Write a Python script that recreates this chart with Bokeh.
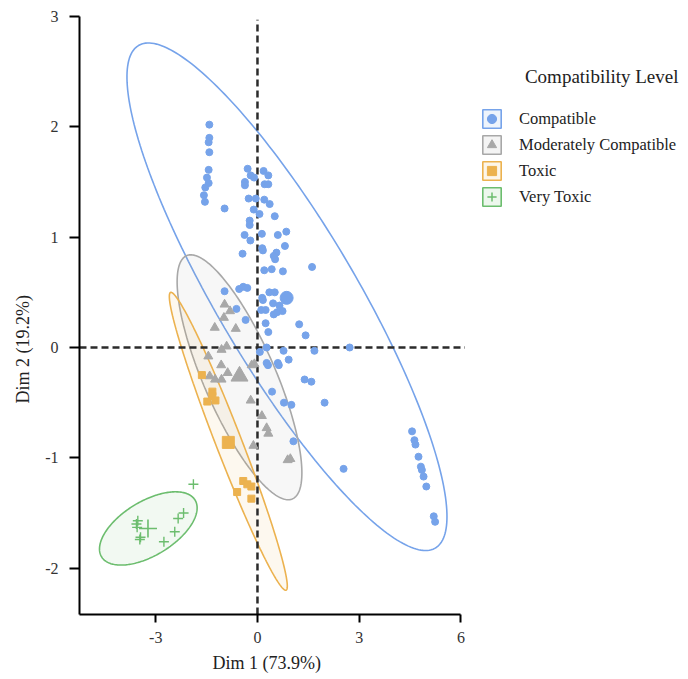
import numpy as np
from bokeh.plotting import figure
from bokeh.models import Range1d, FixedTicker, Legend, LegendItem, Label, Title
from bokeh.embed import file_html
from bokeh.resources import INLINE

FONT = "Liberation Serif"

groups = ["Compatible", "Moderately Compatible", "Toxic", "Very Toxic"]
colors = ["#76A3EA", "#A8A8A8", "#ECB24F", "#6CBD6E"]
markers = ["circle", "triangle", "square", "cross"]

compat_x = [-1.42, -1.42, -1.44, -1.42, -1.44, -1.49, -1.44, -1.54, -1.58, -1.55,
            -0.97, -0.29, -0.20, -0.10, -0.37, -0.37, 0.18, 0.32, 0.21, 0.32,
            -0.26, -0.05, 0.20, 0.36, -0.11, 0.06, 0.51, -0.23, -0.23, -0.38,
            -0.21, 0.13, 0.60, 0.85, 0.14, 0.16, 0.81, -0.44, 0.56, 0.48,
            0.52, 1.61, 0.20, 0.42, 0.75, -0.97, -0.54, -0.42, -0.30, 0.14,
            0.16, 0.35, 0.51, 0.46, 0.65, -0.62, 0.11, 0.24, 0.48, 0.58,
            0.74, -0.35, 0.24, 1.23, 0.32, 1.42, 0.27, 1.68, 0.77, 2.72,
            0.07, 0.27, 0.31, 0.60, 0.63, 0.92, 1.39, 1.59, 0.43, 0.78,
            1.00, 1.98, 1.06, 2.54, 4.56, 4.63, 4.66, 4.75, 4.82, 4.85,
            4.90, 4.98, 5.20, 5.24]
compat_y = [2.02, 1.90, 1.86, 1.77, 1.61, 1.54, 1.49, 1.45, 1.38, 1.32,
            1.26, 1.62, 1.56, 1.54, 1.50, 1.47, 1.60, 1.56, 1.48, 1.48,
            1.35, 1.35, 1.34, 1.30, 1.25, 1.21, 1.19, 1.15, 1.11, 1.02,
            0.97, 1.03, 1.02, 1.05, 0.90, 0.88, 0.92, 0.85, 0.86, 0.83,
            0.80, 0.73, 0.70, 0.71, 0.69, 0.51, 0.53, 0.55, 0.54, 0.45,
            0.43, 0.50, 0.50, 0.40, 0.38, 0.35, 0.34, 0.34, 0.30, 0.32,
            0.33, 0.25, 0.22, 0.21, 0.14, 0.11, 0.00, -0.03, -0.03, 0.00,
            -0.04, -0.14, -0.16, -0.14, -0.16, -0.11, -0.29, -0.31, -0.40, -0.50,
            -0.52, -0.50, -0.85, -1.10, -0.76, -0.84, -0.88, -0.99, -1.08, -1.11,
            -1.17, -1.26, -1.53, -1.58]

moder_x = [-0.97, -0.81, -0.99, -1.26, -0.64, -0.91, -1.06, -1.45, -1.07, -0.88, -1.41,
           -1.25, -1.06, -0.17, -0.09, -0.20, 0.13, 0.27, 0.32, -0.12, 0.89, 0.97]
moder_y = [0.39, 0.33, 0.27, 0.18, 0.17, 0.01, -0.02, -0.08, -0.16, -0.23, -0.26,
           -0.29, -0.29, -0.16, -0.15, -0.48, -0.62, -0.73, -0.78, -0.89, -1.02, -1.01]

toxic_x = [-1.64, -1.33, -1.33, -1.48, -1.24, -0.42, -0.30, -0.18, -0.60, -0.18]
toxic_y = [-0.25, -0.40, -0.44, -0.49, -0.48, -1.21, -1.24, -1.26, -1.31, -1.37]

vtox_x = [-1.89, -2.18, -2.34, -2.44, -2.76, -3.53, -3.57, -3.55, -3.45, -3.47]
vtox_y = [-1.24, -1.50, -1.55, -1.67, -1.76, -1.57, -1.60, -1.63, -1.72, -1.74]

# group centres (large markers)
centre_x = [0.86, -0.53, -0.86, -3.23]
centre_y = [0.45, -0.26, -0.86, -1.64]

# concentration ellipses: centre, half-extent in x, half-extent in y, correlation
ell_cx = [0.87, -0.53, -0.86, -3.22]
ell_cy = [0.46, -0.27, -0.85, -1.64]
ell_hx = [4.72, 1.84, 1.74, 1.44]
ell_hy = [2.30, 1.11, 1.35, 0.332]
ell_rho = [-0.866, -0.78, -0.972, 0.56]
ell_fill_alpha = [0.0, 0.09, 0.09, 0.09]

x_ticks = [-3, 0, 3, 6]
x_tick_labels = ["-3", "0", "3", "6"]
y_ticks = [-2, -1, 0, 1, 2, 3]
y_tick_labels = ["-2", "-1", "0", "1", "2", "3"]

X0 = -5.25
PXU = 33.9  # pixels per x unit

p = figure(width=680, height=677,
           x_range=Range1d(X0, X0 + 601 / PXU),
           y_range=Range1d(-2.42, 3.0),
           output_backend="svg", toolbar_location=None,
           min_border_left=79, min_border_right=0,
           min_border_top=16, min_border_bottom=56)
p.xgrid.visible = False
p.ygrid.visible = False
p.outline_line_color = None
p.background_fill_color = "white"

for ax, ticks, labels, bnds, tout in [
        (p.xaxis[0], x_ticks, x_tick_labels, (X0, 6), 8),
        (p.yaxis[0], y_ticks, y_tick_labels, (-2.42, 3.0), 10)]:
    ax.ticker = FixedTicker(ticks=ticks)
    ax.major_label_overrides = {t: l for t, l in zip(ticks, labels)}
    ax.bounds = bnds
    ax.axis_line_width = 2
    ax.axis_line_color = "black"
    ax.major_tick_line_width = 2
    ax.major_tick_line_color = "black"
    ax.major_tick_out = tout
    ax.major_tick_in = 0
    ax.minor_tick_line_color = None
    ax.major_label_text_font = FONT
    ax.major_label_text_font_size = "16px"
    ax.major_label_text_color = "#333333"
p.xaxis.major_label_standoff = 9
p.yaxis.major_label_standoff = 11

# ellipses
t = np.linspace(0, 2 * np.pi, 240)
for i in range(4):
    ex = ell_cx[i] + ell_hx[i] * np.cos(t)
    ey = ell_cy[i] + ell_hy[i] * (ell_rho[i] * np.cos(t) + np.sqrt(1 - ell_rho[i] ** 2) * np.sin(t))
    p.patch(ex, ey, fill_color=colors[i], fill_alpha=ell_fill_alpha[i],
            line_color=colors[i], line_width=1.6)

# reference lines
p.line([0, 0], [-2.42, 2.97], line_color="#2b2b2b", line_width=2.5, line_dash="7 4")
p.line([X0, 6.12], [0, 0], line_color="#2b2b2b", line_width=2.5, line_dash="7 4")

# points
pts = [(compat_x, compat_y, 7), (moder_x, moder_y, 9), (toxic_x, toxic_y, 7), (vtox_x, vtox_y, 10)]
big = [13, 17, 12, 18]
for i, (xs, ys, sz) in enumerate(pts):
    if markers[i] == "cross":
        p.scatter(xs, ys, marker="cross", size=sz, line_color=colors[i], line_width=1.4)
        p.scatter([centre_x[i]], [centre_y[i]], marker="cross", size=big[i],
                  line_color=colors[i], line_width=1.6)
    else:
        p.scatter(xs, ys, marker=markers[i], size=sz, fill_color=colors[i], line_color=colors[i])
        p.scatter([centre_x[i]], [centre_y[i]], marker=markers[i], size=big[i],
                  fill_color=colors[i], line_color=colors[i])

# legend (dummy renderers with a NaN point)
items = []
for i in range(4):
    box = p.quad(left=[np.nan], right=[np.nan], top=[np.nan], bottom=[np.nan],
                 fill_color=colors[i], fill_alpha=0.12, line_color=colors[i], line_width=1.6)
    if markers[i] == "cross":
        mk = p.scatter([np.nan], [np.nan], marker="cross", line_color=colors[i], line_width=1.5)
    else:
        mk = p.scatter([np.nan], [np.nan], marker=markers[i], fill_color=colors[i], line_color=colors[i])
    items.append(LegendItem(label=groups[i], renderers=[box, mk]))

legend = Legend(items=items, location=(401, 406), orientation="vertical",
                glyph_width=23, glyph_height=23, label_height=23, spacing=3,
                padding=0, margin=0, border_line_color=None, background_fill_alpha=0,
                label_standoff=16, label_text_font=FONT, label_text_font_size="16.5px",
                label_text_color="#222222")
p.add_layout(legend)

p.add_layout(Label(x=X0 + (678 - 79) / PXU, y=2.46, text="Compatibility Level",
                   text_align="right", text_baseline="middle", text_font=FONT,
                   text_font_size="19px", text_color="#222222"))

xtitle = Title(text="Dim 1 (73.9%)", align="left", offset=133, text_font=FONT,
               text_font_size="18px", text_font_style="normal", text_color="#222222")
p.add_layout(xtitle, "below")
ytitle = Title(text="Dim 2 (19.2%)", align="left", offset=211, text_font=FONT,
               text_font_size="18px", text_font_style="normal", text_color="#222222")
ytitle.standoff = 20
p.add_layout(ytitle, "left")

open("out.html", "w").write(file_html(p, INLINE))
